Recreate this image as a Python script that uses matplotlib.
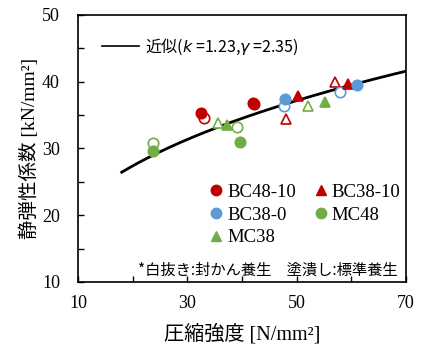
import numpy as np
import matplotlib
matplotlib.use("Agg")
import matplotlib.pyplot as plt
from matplotlib.lines import Line2D

plt.rcParams['mathtext.fontset'] = 'dejavusans'

# Fit parameters (approximation curve)
k_fit = 1.23
gamma_fit = 2.35
fit_x_range = [18, 70]

# series: (x, y) for filled (standard curing) and open (sealed curing)
bc48_10_filled_x = [32.5, 42.0]
bc48_10_filled_y = [35.3, 36.8]
bc48_10_open_x = [33.1, 42.2]
bc48_10_open_y = [34.6, 36.6]

bc38_10_filled_x = [50.3, 59.3]
bc38_10_filled_y = [37.8, 39.7]
bc38_10_open_x = [48.0, 57.0]
bc38_10_open_y = [34.4, 40.0]

bc38_0_filled_x = [47.9, 61.1]
bc38_0_filled_y = [37.4, 39.5]
bc38_0_open_x = [47.7, 57.9]
bc38_0_open_y = [36.4, 38.4]

mc48_filled_x = [23.8, 39.6]
mc48_filled_y = [29.7, 31.0]
mc48_open_x = [23.8, 39.0]
mc48_open_y = [30.8, 33.2]

mc38_filled_x = [37.3, 55.1]
mc38_filled_y = [33.5, 37.0]
mc38_open_x = [35.7, 52.1]
mc38_open_y = [33.8, 36.3]

xticks = [10, 20, 30, 40, 50, 60, 70]
xticklabels = ['10', '', '30', '', '50', '', '70']
yticks = [10, 15, 20, 25, 30, 35, 40, 45, 50]
yticklabels = ['10', '', '20', '', '30', '', '40', '', '50']

RED = '#C00000'
BLUE = '#5B9BD5'
GREEN = '#70AD47'

SERIF = ['Liberation Serif', 'Noto Sans CJK JP']
JP = ['Noto Sans CJK JP', 'DejaVu Sans']

fig = plt.figure(figsize=(4.22, 3.49), dpi=100)
ax = fig.add_axes([78/422, 67/349, 328/422, 267/349])

# approximation curve
fx = np.linspace(fit_x_range[0], fit_x_range[1], 200)
fy = k_fit * 33.5 * (gamma_fit / 2.4) ** 2 * (fx / 60) ** (1 / 3)
line, = ax.plot(fx, fy, color='black', lw=2.0, zorder=2)

ms = 7.5
mew = 1.2

def draw(xf, yf, xo, yo, color, marker):
    ax.plot(xo, yo, linestyle='none', marker=marker, markersize=ms,
            markerfacecolor='white', markeredgecolor=color, markeredgewidth=mew, zorder=3)
    ax.plot(xf, yf, linestyle='none', marker=marker, markersize=ms,
            markerfacecolor=color, markeredgecolor=color, markeredgewidth=mew, zorder=4)

draw(bc48_10_filled_x, bc48_10_filled_y, bc48_10_open_x, bc48_10_open_y, RED, 'o')
draw(bc38_10_filled_x, bc38_10_filled_y, bc38_10_open_x, bc38_10_open_y, RED, '^')
draw(bc38_0_filled_x, bc38_0_filled_y, bc38_0_open_x, bc38_0_open_y, BLUE, 'o')
draw(mc48_filled_x, mc48_filled_y, mc48_open_x, mc48_open_y, GREEN, 'o')
draw(mc38_filled_x, mc38_filled_y, mc38_open_x, mc38_open_y, GREEN, '^')

ax.set_xlim(10, 70)
ax.set_ylim(10, 50)
ax.set_xticks(xticks)
ax.set_xticklabels(xticklabels, fontfamily=SERIF, fontsize=13)
ax.set_yticks(yticks)
ax.set_yticklabels(yticklabels, fontfamily=SERIF, fontsize=13)
ax.tick_params(axis='both', direction='in', length=4, width=1)
ax.tick_params(axis='x', pad=9)
ax.tick_params(axis='y', pad=13)
for s in ax.spines.values():
    s.set_linewidth(1.2)

ax.set_xlabel('圧縮強度 [N/mm²]', fontfamily=SERIF, fontsize=14.5, labelpad=9)
ax.set_ylabel('静弾性係数 [kN/mm²]', fontfamily=SERIF, fontsize=14, labelpad=2)

# line legend
leg1 = ax.legend([line], ['近似($k$ =1.23,$\\gamma$ =2.35)'], loc='upper left',
                 frameon=False, prop={'family': JP, 'size': 11.5},
                 handlelength=2.3, handletextpad=0.4, borderaxespad=0.3,
                 bbox_to_anchor=(0.04, 0.962))
leg1.get_lines()[0].set_linewidth(1.2)
ax.add_artist(leg1)

handles = [
    Line2D([], [], linestyle='none', marker='o', color=RED, markersize=7.5),
    Line2D([], [], linestyle='none', marker='^', color=RED, markersize=7.5),
    Line2D([], [], linestyle='none', marker='o', color=BLUE, markersize=7.5),
    Line2D([], [], linestyle='none', marker='o', color=GREEN, markersize=7.5),
    Line2D([], [], linestyle='none', marker='^', color=GREEN, markersize=7.5),
]
labels = ['BC48-10', 'BC38-10', 'BC38-0', 'MC48', 'MC38']
# order for ncol=2 with row-major appearance
order = [0, 2, 4, 1, 3]
ax.legend([handles[i] for i in order], [labels[i] for i in order],
          ncol=2, frameon=False, prop={'family': SERIF, 'size': 13.5},
          handlelength=0.6, handletextpad=0.3, columnspacing=1.0,
          labelspacing=0.3, loc='lower right', bbox_to_anchor=(1.035, 0.07))

ax.text(0.975, 0.012, '*白抜き:封かん養生　塗潰し:標準養生', transform=ax.transAxes,
        ha='right', va='bottom', fontfamily=JP, fontsize=11)

fig.savefig('out.png', dpi=100)
